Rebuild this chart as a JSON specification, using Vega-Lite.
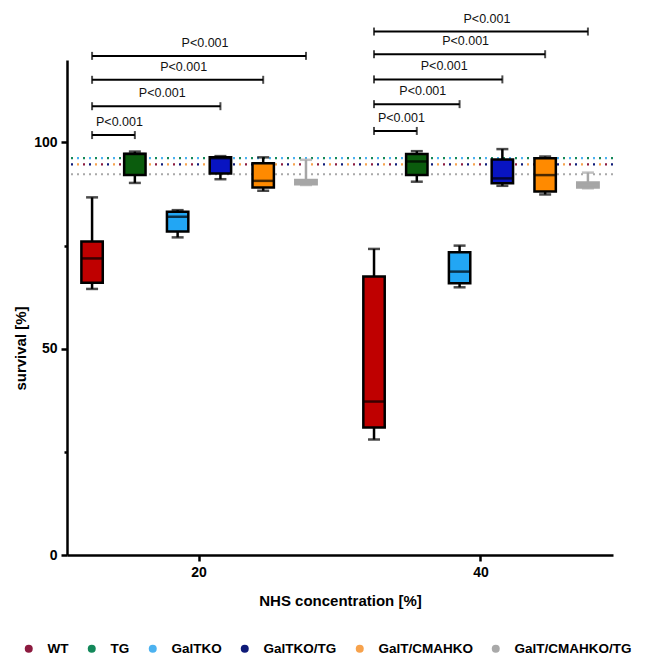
{
  "$schema": "https://vega.github.io/schema/vega-lite/v6.json",
  "width": 546,
  "height": 495,
  "autosize": {"type": "none"},
  "padding": {"left": 67, "top": 60, "right": 37, "bottom": 104},
  "config": {
    "view": {"stroke": null},
    "font": "Liberation Sans",
    "axis": {
      "domainColor": "#000000",
      "domainWidth": 2.5,
      "tickColor": "#000000",
      "tickWidth": 2.5,
      "grid": false,
      "labelFont": "Liberation Sans",
      "labelFontSize": 14,
      "labelFontWeight": "bold",
      "labelColor": "#000000",
      "labelPadding": 4,
      "titleFont": "Liberation Sans",
      "titleFontSize": 15,
      "titleFontWeight": "bold",
      "titleColor": "#000000"
    },
    "axisY": {"titleY": 288, "titlePadding": 5}
  },
  "datasets": {
    "boxes": [
      {"conc": "20", "genotype": "WT", "min": 64.5, "q1": 66.0, "median": 71.9, "q3": 76.0, "max": 86.7},
      {"conc": "20", "genotype": "TG", "min": 90.2, "q1": 92.1, "median": 97.2, "q3": 97.3, "max": 97.8},
      {"conc": "20", "genotype": "GalTKO", "min": 77.0, "q1": 78.4, "median": 82.0, "q3": 83.2, "max": 83.6},
      {"conc": "20", "genotype": "GalTKO/TG", "min": 91.1, "q1": 92.5, "median": 96.2, "q3": 96.4, "max": 96.7},
      {"conc": "20", "genotype": "GalT/CMAHKO", "min": 88.3, "q1": 89.1, "median": 90.7, "q3": 95.0, "max": 96.4},
      {"conc": "20", "genotype": "GalT/CMAHKO/TG", "min": 89.7, "q1": 89.9, "median": 90.5, "q3": 90.9, "max": 95.8},
      {"conc": "40", "genotype": "WT", "min": 28.0, "q1": 30.9, "median": 37.2, "q3": 67.5, "max": 74.2},
      {"conc": "40", "genotype": "TG", "min": 90.5, "q1": 92.1, "median": 95.4, "q3": 97.2, "max": 97.9},
      {"conc": "40", "genotype": "GalTKO", "min": 64.9, "q1": 65.9, "median": 68.7, "q3": 73.4, "max": 75.0},
      {"conc": "40", "genotype": "GalTKO/TG", "min": 89.5, "q1": 90.1, "median": 91.3, "q3": 95.9, "max": 98.4},
      {"conc": "40", "genotype": "GalT/CMAHKO", "min": 87.4, "q1": 88.1, "median": 92.1, "q3": 96.2, "max": 96.6},
      {"conc": "40", "genotype": "GalT/CMAHKO/TG", "min": 88.9, "q1": 89.1, "median": 89.7, "q3": 90.3, "max": 92.7}
    ],
    "refs": [
      {"strain": "TG", "level": 96.2},
      {"strain": "GalTKO", "level": 96.2},
      {"strain": "GalTKO/TG", "level": 94.7},
      {"strain": "WT", "level": 94.7},
      {"strain": "GalT/CMAHKO", "level": 94.7},
      {"strain": "GalT/CMAHKO/TG", "level": 92.3}
    ],
    "brackets": [
      {"conc": "20", "from": "WT", "to": "TG", "mid": "mid1", "level": 101.8, "label": "P<0.001"},
      {"conc": "20", "from": "WT", "to": "GalTKO/TG", "mid": "mid2", "level": 108.8, "label": "P<0.001"},
      {"conc": "20", "from": "WT", "to": "GalT/CMAHKO", "mid": "GalTKO", "level": 115.2, "label": "P<0.001"},
      {"conc": "20", "from": "WT", "to": "GalT/CMAHKO/TG", "mid": "mid3", "level": 121.0, "label": "P<0.001"},
      {"conc": "40", "from": "WT", "to": "TG", "mid": "mid1", "level": 102.8, "label": "P<0.001"},
      {"conc": "40", "from": "WT", "to": "GalTKO", "mid": "TG", "level": 109.3, "label": "P<0.001"},
      {"conc": "40", "from": "WT", "to": "GalTKO/TG", "mid": "mid2", "level": 115.3, "label": "P<0.001"},
      {"conc": "40", "from": "WT", "to": "GalT/CMAHKO", "mid": "GalTKO", "level": 121.4, "label": "P<0.001"},
      {"conc": "40", "from": "WT", "to": "GalT/CMAHKO/TG", "mid": "mid3", "level": 126.9, "label": "P<0.001"}
    ]
  },
  "layer": [
    {
      "data": {"name": "refs"},
      "mark": {"type": "rule", "strokeWidth": 2.2, "strokeCap": "butt"},
      "encoding": {
        "y": {
          "field": "level",
          "type": "quantitative",
          "scale": {"domain": [0, 120], "nice": false, "zero": true},
          "axis": {
            "title": "survival [%]",
            "values": [0, 25, 50, 75, 100],
            "labelExpr": "datum.value % 50 === 0 ? datum.label : ''",
            "tickSize": {"condition": {"test": "datum.value % 50 === 0", "value": 6}, "value": 3}
          }
        },
        "color": {
          "field": "strain",
          "type": "nominal",
          "scale": {
            "domain": ["WT", "TG", "GalTKO", "GalTKO/TG", "GalT/CMAHKO", "GalT/CMAHKO/TG"],
            "range": ["#8c1a3f", "#13885a", "#4cb2f0", "#0e1a78", "#f7a24c", "#a9a9a9"]
          },
          "legend": {
            "orient": "none",
            "legendX": -45,
            "legendY": 582,
            "direction": "horizontal",
            "columns": 6,
            "gridAlign": "none",
            "title": null,
            "padding": 0,
            "symbolType": "circle",
            "symbolSize": 64,
            "symbolStrokeWidth": 0,
            "labelFont": "Liberation Sans",
            "labelFontSize": 13.5,
            "labelFontWeight": "bold",
            "labelColor": "#000000",
            "labelOffset": 12,
            "columnPadding": 16,
            "encode": {
              "symbols": {
                "update": {
                  "fill": {"scale": "color", "field": "value"},
                  "opacity": {"value": 1},
                  "strokeWidth": {"value": 0}
                }
              }
            }
          }
        },
        "strokeDash": {
          "field": "strain",
          "type": "nominal",
          "scale": {
            "domain": ["TG", "GalTKO", "GalTKO/TG", "WT", "GalT/CMAHKO", "GalT/CMAHKO/TG"],
            "range": [[2, 10], [0, 6, 2, 4], [2, 16], [0, 6, 2, 10], [0, 12, 2, 4], [2, 4]]
          },
          "legend": null
        }
      }
    },
    {
      "encoding": {
        "x": {
          "field": "conc",
          "type": "ordinal",
          "scale": {"domain": ["20", "40"], "paddingInner": 0.1655, "paddingOuter": 0.051},
          "axis": {"title": "NHS concentration [%]", "labelAngle": 0, "tickSize": 6, "titlePadding": 14}
        }
      },
      "layer": [
        {
          "data": {"name": "boxes"},
          "mark": {"type": "rule", "strokeWidth": 2.5},
          "encoding": {
            "xOffset": {
              "field": "genotype",
              "type": "nominal",
              "scale": {
                "domain": ["WT", "mid1", "TG", "mid2", "GalTKO", "mid3", "GalTKO/TG", "mid4", "GalT/CMAHKO", "mid5", "GalT/CMAHKO/TG"],
                "paddingInner": 0,
                "paddingOuter": 0
              }
            },
            "y": {"field": "min", "type": "quantitative", "axis": {"title": "survival [%]"}},
            "y2": {"field": "max"},
            "stroke": {"condition": {"test": "datum.genotype === 'GalT/CMAHKO/TG'", "value": "#a6a6a6"}, "value": "#000000"}
          }
        },
        {
          "data": {"name": "boxes"},
          "mark": {"type": "bar", "strokeWidth": 2.5},
          "encoding": {
            "xOffset": {"field": "genotype", "type": "nominal"},
            "y": {"field": "q1", "type": "quantitative", "axis": {"title": "survival [%]"}},
            "y2": {"field": "q3"},
            "fill": {
              "condition": [
                {"test": "datum.genotype === 'WT'", "value": "#bf0000"},
                {"test": "datum.genotype === 'TG'", "value": "#0b5c0d"},
                {"test": "datum.genotype === 'GalTKO'", "value": "#22a6f4"},
                {"test": "datum.genotype === 'GalTKO/TG'", "value": "#0814c2"},
                {"test": "datum.genotype === 'GalT/CMAHKO'", "value": "#ff8a00"}
              ],
              "value": "#a6a6a6"
            },
            "stroke": {"condition": {"test": "datum.genotype === 'GalT/CMAHKO/TG'", "value": "#a6a6a6"}, "value": "#000000"}
          }
        },
        {
          "data": {"name": "boxes"},
          "mark": {"type": "tick", "thickness": 2.5, "size": 21},
          "encoding": {
            "xOffset": {"field": "genotype", "type": "nominal"},
            "y": {"field": "median", "type": "quantitative", "axis": {"title": "survival [%]"}},
            "fill": {"condition": {"test": "datum.genotype === 'GalT/CMAHKO/TG'", "value": "#a6a6a6"}, "value": "#000000"}
          }
        },
        {
          "data": {"name": "boxes"},
          "transform": [{"fold": ["min", "max"], "as": ["stat", "whiskerEnd"]}],
          "mark": {"type": "tick", "thickness": 2.5, "size": 12},
          "encoding": {
            "xOffset": {"field": "genotype", "type": "nominal"},
            "y": {"field": "whiskerEnd", "type": "quantitative", "axis": {"title": "survival [%]"}},
            "fill": {"condition": {"test": "datum.genotype === 'GalT/CMAHKO/TG'", "value": "#a6a6a6"}, "value": "#000000"}
          }
        },
        {
          "data": {"name": "brackets"},
          "transform": [{"fold": ["from", "to"], "as": ["end", "slot"]}],
          "mark": {"type": "line", "strokeWidth": 2, "stroke": "#000000", "clip": false},
          "encoding": {
            "xOffset": {"field": "slot", "type": "nominal"},
            "y": {"field": "level", "type": "quantitative", "axis": {"title": "survival [%]"}},
            "detail": [{"field": "conc"}, {"field": "to"}]
          }
        },
        {
          "data": {"name": "brackets"},
          "transform": [{"fold": ["from", "to"], "as": ["end", "slot"]}],
          "mark": {"type": "tick", "orient": "vertical", "thickness": 2, "size": 8, "fill": "#000000", "clip": false},
          "encoding": {
            "xOffset": {"field": "slot", "type": "nominal"},
            "y": {"field": "level", "type": "quantitative", "axis": {"title": "survival [%]"}}
          }
        },
        {
          "data": {"name": "brackets"},
          "mark": {"type": "text", "fontSize": 12.5, "font": "Liberation Sans", "fill": "#111111", "dy": -13, "dx": 6, "clip": false},
          "encoding": {
            "xOffset": {"field": "mid", "type": "nominal"},
            "y": {"field": "level", "type": "quantitative", "axis": {"title": "survival [%]"}},
            "text": {"field": "label"}
          }
        }
      ]
    }
  ]
}
